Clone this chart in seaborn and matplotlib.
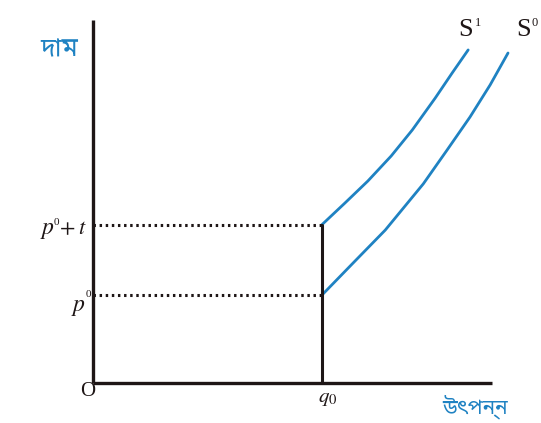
import matplotlib
matplotlib.use('Agg')
import matplotlib.pyplot as plt
import seaborn as sns
import pandas as pd

# values (x: output, y: price)
q0 = 5.0
p0 = 4.0
tax = 3.2
x_end = 8.7
y_end = 16.5

s1_x = [5.0, 5.50, 6.00, 6.51, 6.97, 7.47, 7.84, 8.19]
s1_y = [7.2, 8.18, 9.18, 10.32, 11.5, 12.95, 14.09, 15.14]
s0_x = [5.0, 5.70, 6.38, 7.21, 7.73, 8.23, 8.67, 9.06]
s0_y = [4.0, 5.50, 6.95, 9.05, 10.59, 12.09, 13.55, 15.0]

sns.set_style('white')
plt.rcParams['mathtext.fontset'] = 'stix'
bengali = ['Noto Sans Bengali', 'Lohit Bengali', 'FreeSerif', 'Noto Sans', 'DejaVu Sans']
serif = ['Liberation Serif', 'DejaVu Serif']

df = pd.concat([
    pd.DataFrame({'q': s1_x, 'p': s1_y, 'curve': 'S1'}),
    pd.DataFrame({'q': s0_x, 'p': s0_y, 'curve': 'S0'}),
])

fig = plt.figure(figsize=(5.41, 4.23), dpi=100)
ax = fig.add_axes([0, 0, 1, 1])
ax.set_xlim(-2.03, 9.78)
ax.set_ylim(-1.82, 17.41)
ax.axis('off')

dark = '#1e1616'
blue = '#1f82c2'

# axes
ax.plot([0, 0], [0, y_end], color=dark, lw=2.4, solid_capstyle='butt')
ax.plot([0, x_end], [0, 0], color=dark, lw=2.4, solid_capstyle='butt')

# supply curves
sns.lineplot(data=df, x='q', y='p', units='curve', estimator=None, sort=False,
             color=blue, lw=2, ax=ax, legend=False)

# q0 vertical and dotted price lines
ax.plot([q0, q0], [0, p0 + tax], color=dark, lw=2.2)
for p in [p0, p0 + tax]:
    ax.plot([0, q0], [p, p], color=dark, lw=2.2, linestyle=(0, (0.8, 1.2)))

# price labels
ax.text(-0.83, 7.0, r'$p$', fontsize=17, ha='right', va='center', color=dark)
ax.text(-0.85, 7.28, '0', fontsize=8, ha='left', va='center', color=dark, family=serif)
ax.text(-0.12, 7.05, r'$+\;t$', fontsize=16, ha='right', va='center', color=dark)
ax.text(-0.15, 3.5, r'$p$', fontsize=17, ha='right', va='center', color=dark)
ax.text(-0.17, 4.0, '0', fontsize=8, ha='left', va='center', color=dark, family=serif)

# quantity labels
ax.text(-0.11, -0.41, 'O', fontsize=15, ha='center', va='center', color=dark, family=serif)
ax.text(q0 + 0.13, -0.68, r'$q_0$', fontsize=15, ha='center', va='center', color=dark)

# curve labels
ax.text(8.14, 16.05, 'S', fontsize=19, ha='center', va='center', color=dark, family=serif)
ax.text(8.33, 16.35, '1', fontsize=9, ha='left', va='center', color=dark, family=serif)
ax.text(9.39, 16.05, 'S', fontsize=19, ha='center', va='center', color=dark, family=serif)
ax.text(9.58, 16.35, '0', fontsize=9, ha='left', va='center', color=dark, family=serif)

# axis titles
ax.text(-0.74, 15.18, 'দাম', fontsize=19, ha='center', va='center', color=blue,
        fontweight='bold', family=bengali)
ax.text(8.34, -1.09, 'উৎপন্ন', fontsize=15, ha='center', va='center', color=blue,
        family=bengali)

fig.savefig('out.png', dpi=100)
